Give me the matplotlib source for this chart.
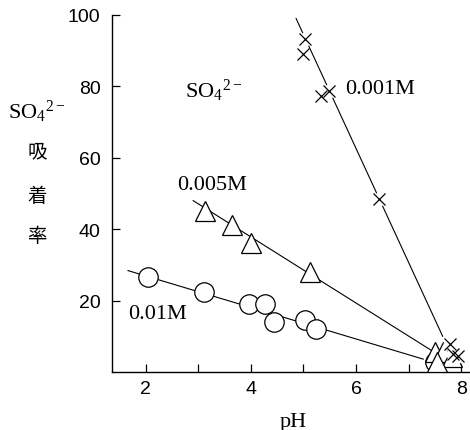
import matplotlib
matplotlib.use("Agg")
import matplotlib.pyplot as plt

plt.rcParams['mathtext.fontset'] = 'custom'
plt.rcParams['mathtext.rm'] = 'Liberation Serif'
plt.rcParams['mathtext.it'] = 'Liberation Serif:italic'

# 0.001M (x)
ph_001 = [5.03, 5.00, 5.33, 5.49, 6.44, 7.79, 7.85, 7.95]
ads_001 = [93.3, 89.1, 77.2, 78.8, 48.5, 7.8, 5.0, 4.6]
fit_x_001 = [4.86, 7.65]
fit_y_001 = [99.0, 10.0]

# 0.005M (triangle)
ph_005 = [3.13, 3.64, 4.00, 5.13, 7.51, 7.66, 7.82, 7.54]
ads_005 = [45.2, 41.2, 36.1, 27.9, 5.6, 5.5, 4.1, 2.8]
fit_x_005 = [2.90, 7.44]
fit_y_005 = [48.0, 6.0]

# 0.01M (circle)
ph_01 = [2.05, 3.10, 3.97, 4.27, 4.44, 5.02, 5.24, 7.51]
ads_01 = [26.5, 22.3, 19.0, 19.0, 13.9, 14.6, 12.0, 2.7]
fit_x_01 = [1.66, 7.28]
fit_y_01 = [28.4, 3.6]

serif = ['Liberation Serif', 'DejaVu Serif']
cjk = ['Noto Sans CJK JP', 'DejaVu Sans']

fig = plt.figure(figsize=(4.7, 4.31), dpi=100)
ax = fig.add_axes([0.2377, 0.1346, 0.7623, 0.8283])

lw = 0.8
# regression lines
ax.plot(fit_x_01, fit_y_01, color='black', lw=lw, zorder=1)
ax.plot(fit_x_005, fit_y_005, color='black', lw=lw, zorder=1)
ax.plot(fit_x_001, fit_y_001, color='black', lw=lw, zorder=1)

# points
ax.plot(ph_01, ads_01, linestyle='none', marker='o', ms=14, mfc='white',
        mec='black', mew=0.9, zorder=3)
ax.plot(ph_005, ads_005, linestyle='none', marker='^', ms=14, mfc='white',
        mec='black', mew=0.9, zorder=4)
# white patch behind the crosses so the line breaks around them
ax.plot(ph_001, ads_001, linestyle='none', marker='o', ms=10, mfc='white',
        mec='none', zorder=5)
ax.plot(ph_001, ads_001, linestyle='none', marker='x', ms=9, color='black',
        mew=0.9, zorder=6)

ax.set_xlim(1.35, 8.17)
ax.set_ylim(0, 100)
ax.set_xticks([2, 4, 6, 8])
ax.set_xticks([3, 5, 7], minor=True)
ax.set_yticks([20, 40, 60, 80, 100])
ax.tick_params(which='both', direction='in', length=6, width=0.9, color='black')
ax.tick_params(axis='y', pad=8, labelsize=14)
ax.tick_params(axis='x', pad=6, labelsize=14)
for lab in ax.get_xticklabels() + ax.get_yticklabels():
    lab.set_family(['Liberation Sans', 'DejaVu Sans'])

for s in ['top', 'right']:
    ax.spines[s].set_visible(False)
for s in ['left', 'bottom']:
    ax.spines[s].set_linewidth(1.0)

# labels inside the plot
ax.text(2.75, 79, r'$\mathrm{SO_4{}^{2-}}$', fontsize=16, family=serif,
        ha='left', va='center')
ax.text(5.79, 79.3, '0.001M', fontsize=16, family=serif, ha='left', va='center')
ax.text(2.60, 52.4, '0.005M', fontsize=16, family=serif, ha='left', va='center')
ax.text(1.66, 16.5, '0.01M', fontsize=16, family=serif, ha='left', va='center')

# axis titles
fig.text(293 / 470, 1 - 423 / 431, 'pH', fontsize=16, family=serif,
         ha='center', va='center')
fig.text(37 / 470, 1 - 112 / 431, r'$\mathrm{SO_4{}^{2-}}$', fontsize=16,
         family=serif, ha='center', va='center')
for ch, yp in zip(['吸', '着', '率'], [152, 196, 237]):
    fig.text(37 / 470, 1 - yp / 431, ch, fontsize=14, family=cjk,
             ha='center', va='center')

fig.savefig('out.png', dpi=100)
